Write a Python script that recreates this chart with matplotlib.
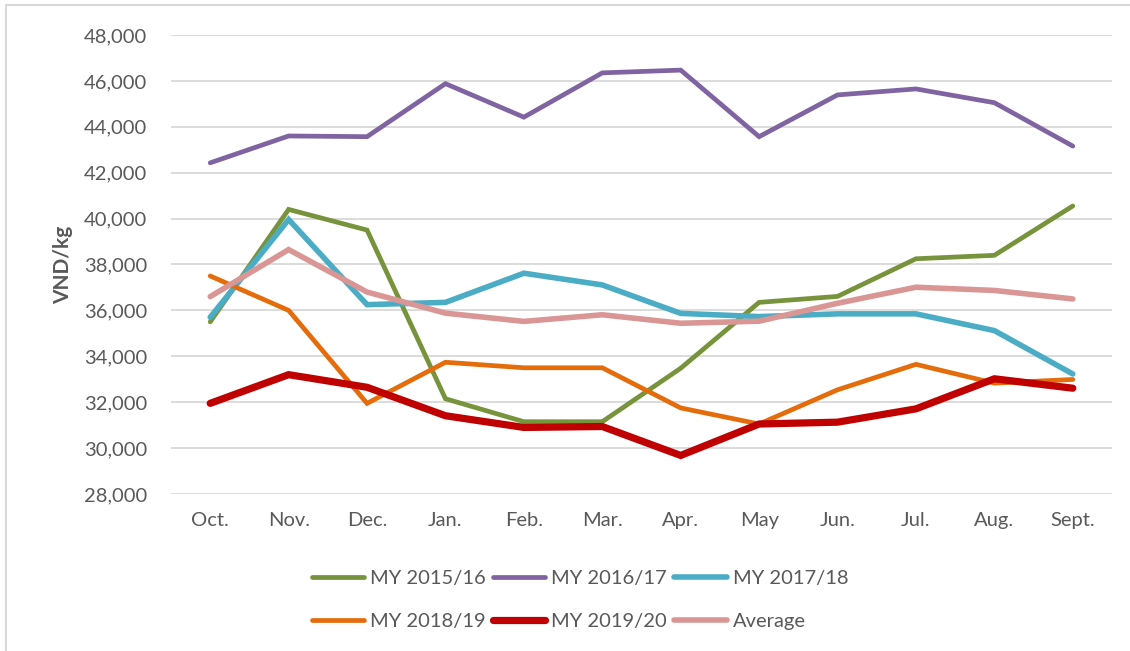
import numpy as np
import matplotlib
matplotlib.use("Agg")
import matplotlib.pyplot as plt
from matplotlib.patches import Rectangle
from matplotlib.ticker import FuncFormatter

months = ["Oct.", "Nov.", "Dec.", "Jan.", "Feb.", "Mar.", "Apr.", "May", "Jun.", "Jul.", "Aug.", "Sept."]

my_2015_16 = [35500, 40400, 39500, 32150, 31150, 31150, 33480, 36350, 36610, 38250, 38400, 40550]
my_2016_17 = [42430, 43600, 43570, 45880, 44420, 46350, 46470, 43570, 45390, 45650, 45050, 43160]
my_2017_18 = [35700, 39960, 36250, 36350, 37620, 37110, 35870, 35730, 35850, 35850, 35120, 33230]
my_2018_19 = [37500, 36000, 31950, 33740, 33500, 33500, 31750, 31050, 32540, 33650, 32830, 32990]
my_2019_20 = [31950, 33200, 32650, 31410, 30900, 30940, 29680, 31050, 31130, 31710, 33020, 32610]
average = [36600, 38650, 36800, 35880, 35520, 35810, 35440, 35530, 36310, 37010, 36870, 36500]

plt.rcParams['font.family'] = ['Lato', 'DejaVu Sans']

fig = plt.figure(figsize=(11.3, 6.51), dpi=100)
ax = fig.add_axes([171/1130, 1-494/651, (1112-171)/1130, (494-35)/651])

x = np.arange(len(months))
series = [
    ("MY 2015/16", my_2015_16, "#77933C", 3.4),
    ("MY 2016/17", my_2016_17, "#8064A2", 3.4),
    ("MY 2017/18", my_2017_18, "#4BACC6", 4.0),
    ("MY 2018/19", my_2018_19, "#E46C0A", 3.4),
    ("MY 2019/20", my_2019_20, "#C00000", 5.2),
    ("Average", average, "#D99694", 4.0),
]
handles = {}
for name, vals, col, lw in series:
    h, = ax.plot(x, vals, color=col, lw=lw, label=name, solid_capstyle='round',
                 solid_joinstyle='miter')
    handles[name] = h

ax.set_xlim(-0.5, 11.5)
ax.set_ylim(28000, 48000)
ax.set_yticks(np.arange(28000, 48001, 2000))
ax.yaxis.set_major_formatter(FuncFormatter(lambda v, p: f"{int(v):,}"))
ax.set_xticks(x)
ax.set_xticklabels(months)
ax.grid(axis='y', color='#D9D9D9', lw=1.3)
ax.set_axisbelow(True)
for s in ax.spines.values():
    s.set_visible(False)
ax.tick_params(axis='both', length=0, labelsize=14.5, colors='#595959')
ax.tick_params(axis='y', pad=17)
ax.tick_params(axis='x', pad=13)
ax.set_ylabel("VND/kg", fontsize=15, fontweight='bold', color='#595959', labelpad=8)

order = ["MY 2015/16", "MY 2018/19", "MY 2016/17", "MY 2019/20", "MY 2017/18", "Average"]
fig.legend([handles[n] for n in order], order, ncol=3, loc='center',
           bbox_to_anchor=(580/1130, 1-600/651), frameon=False, fontsize=14.5,
           handlelength=2.6, handletextpad=0.3, columnspacing=0.35, labelspacing=1.3,
           labelcolor='#595959')

fig.patches.append(Rectangle((6/1130, -0.05), 1.2, 1-5/651+0.05, transform=fig.transFigure,
                             fill=False, edgecolor='#D9D9D9', lw=1.5))

fig.savefig("out.png", dpi=100)
